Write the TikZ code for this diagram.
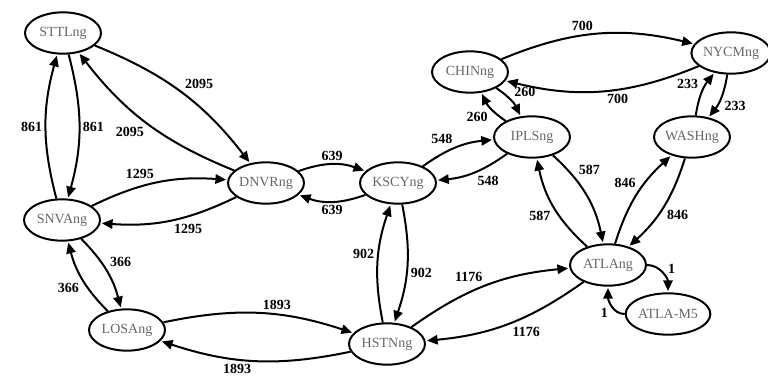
\documentclass[tikz,border=0pt]{standalone}
\usepackage{fontspec}
\setmainfont{Liberation Serif}
\usetikzlibrary{arrows.meta,shapes.geometric}

\begin{document}
\begin{tikzpicture}[->,>={Triangle[length=8pt,width=7pt]},shorten >=1pt,auto,
                    x=0.75pt,y=-0.75pt,line width=1.5pt,bend left=15,
                    city/.style={ellipse,draw,minimum width=57pt,minimum height=31pt,
                                 inner sep=0pt,text=black!60,font=\fontsize{10.5}{12}\selectfont},
                    wt/.style={font=\fontsize{10.5}{12}\selectfont\bfseries,inner sep=2pt}]

  \useasboundingbox (0,0) rectangle (768,379);

  \node[city] (STTL) at (63,33)   {STTLng};
  \node[city] (SNVA) at (62,220)  {SNVAng};
  \node[city] (LOSA) at (127,330) {LOSAng};
  \node[city] (DNVR) at (266,183) {DNVRng};
  \node[city] (KSCY) at (398,183) {KSCYng};
  \node[city] (HSTN) at (387,344) {HSTNng};
  \node[city] (CHIN) at (470,72)  {CHINng};
  \node[city] (IPLS) at (532,137) {IPLSng};
  \node[city] (NYCM) at (731,53)  {NYCMng};
  \node[city] (WASH) at (692,137) {WASHng};
  \node[city] (ATLA) at (608,265) {ATLAng};
  \node[city] (ATM5) at (668,314) {ATLA-M5};

  \path (STTL) edge node[wt] {2095} (DNVR)
               edge node[wt] {861} (SNVA)
        (SNVA) edge node[wt] {861} (STTL)
               edge node[wt] {1295} (DNVR)
               edge node[wt] {366} (LOSA)
        (LOSA) edge node[wt] {366} (SNVA)
               edge node[wt] {1893} (HSTN)
        (DNVR) edge node[wt] {2095} (STTL)
               edge node[wt] {1295} (SNVA)
               edge [bend left=20] node[wt] {639} (KSCY)
        (KSCY) edge [bend left=20] node[wt] {639} (DNVR)
               edge node[wt] {548} (IPLS)
               edge node[wt] {902} (HSTN)
        (HSTN) edge node[wt] {902} (KSCY)
               edge node[wt] {1893} (LOSA)
               edge node[wt] {1176} (ATLA)
        (CHIN) edge [bend left=18] node[wt] {700} (NYCM)
               edge node[wt] {260} (IPLS)
        (IPLS) edge node[wt] {260} (CHIN)
               edge node[wt] {548} (KSCY)
               edge [bend left=18] node[wt,pos=0.3] {587} (ATLA)
        (NYCM) edge [bend left=18] node[wt] {700} (CHIN)
               edge node[wt] {233} (WASH)
        (WASH) edge node[wt] {233} (NYCM)
               edge node[wt] {846} (ATLA)
        (ATLA) edge [bend left=18] node[wt] {587} (IPLS)
               edge node[wt,pos=0.55] {846} (WASH)
               edge node[wt] {1176} (HSTN)
               edge [relative=false,out=0,in=90] node[wt,pos=0.6] {1} (ATM5)
        (ATM5) edge [relative=false,out=180,in=-90] node[wt] {1} (ATLA);
\end{tikzpicture}
\end{document}
